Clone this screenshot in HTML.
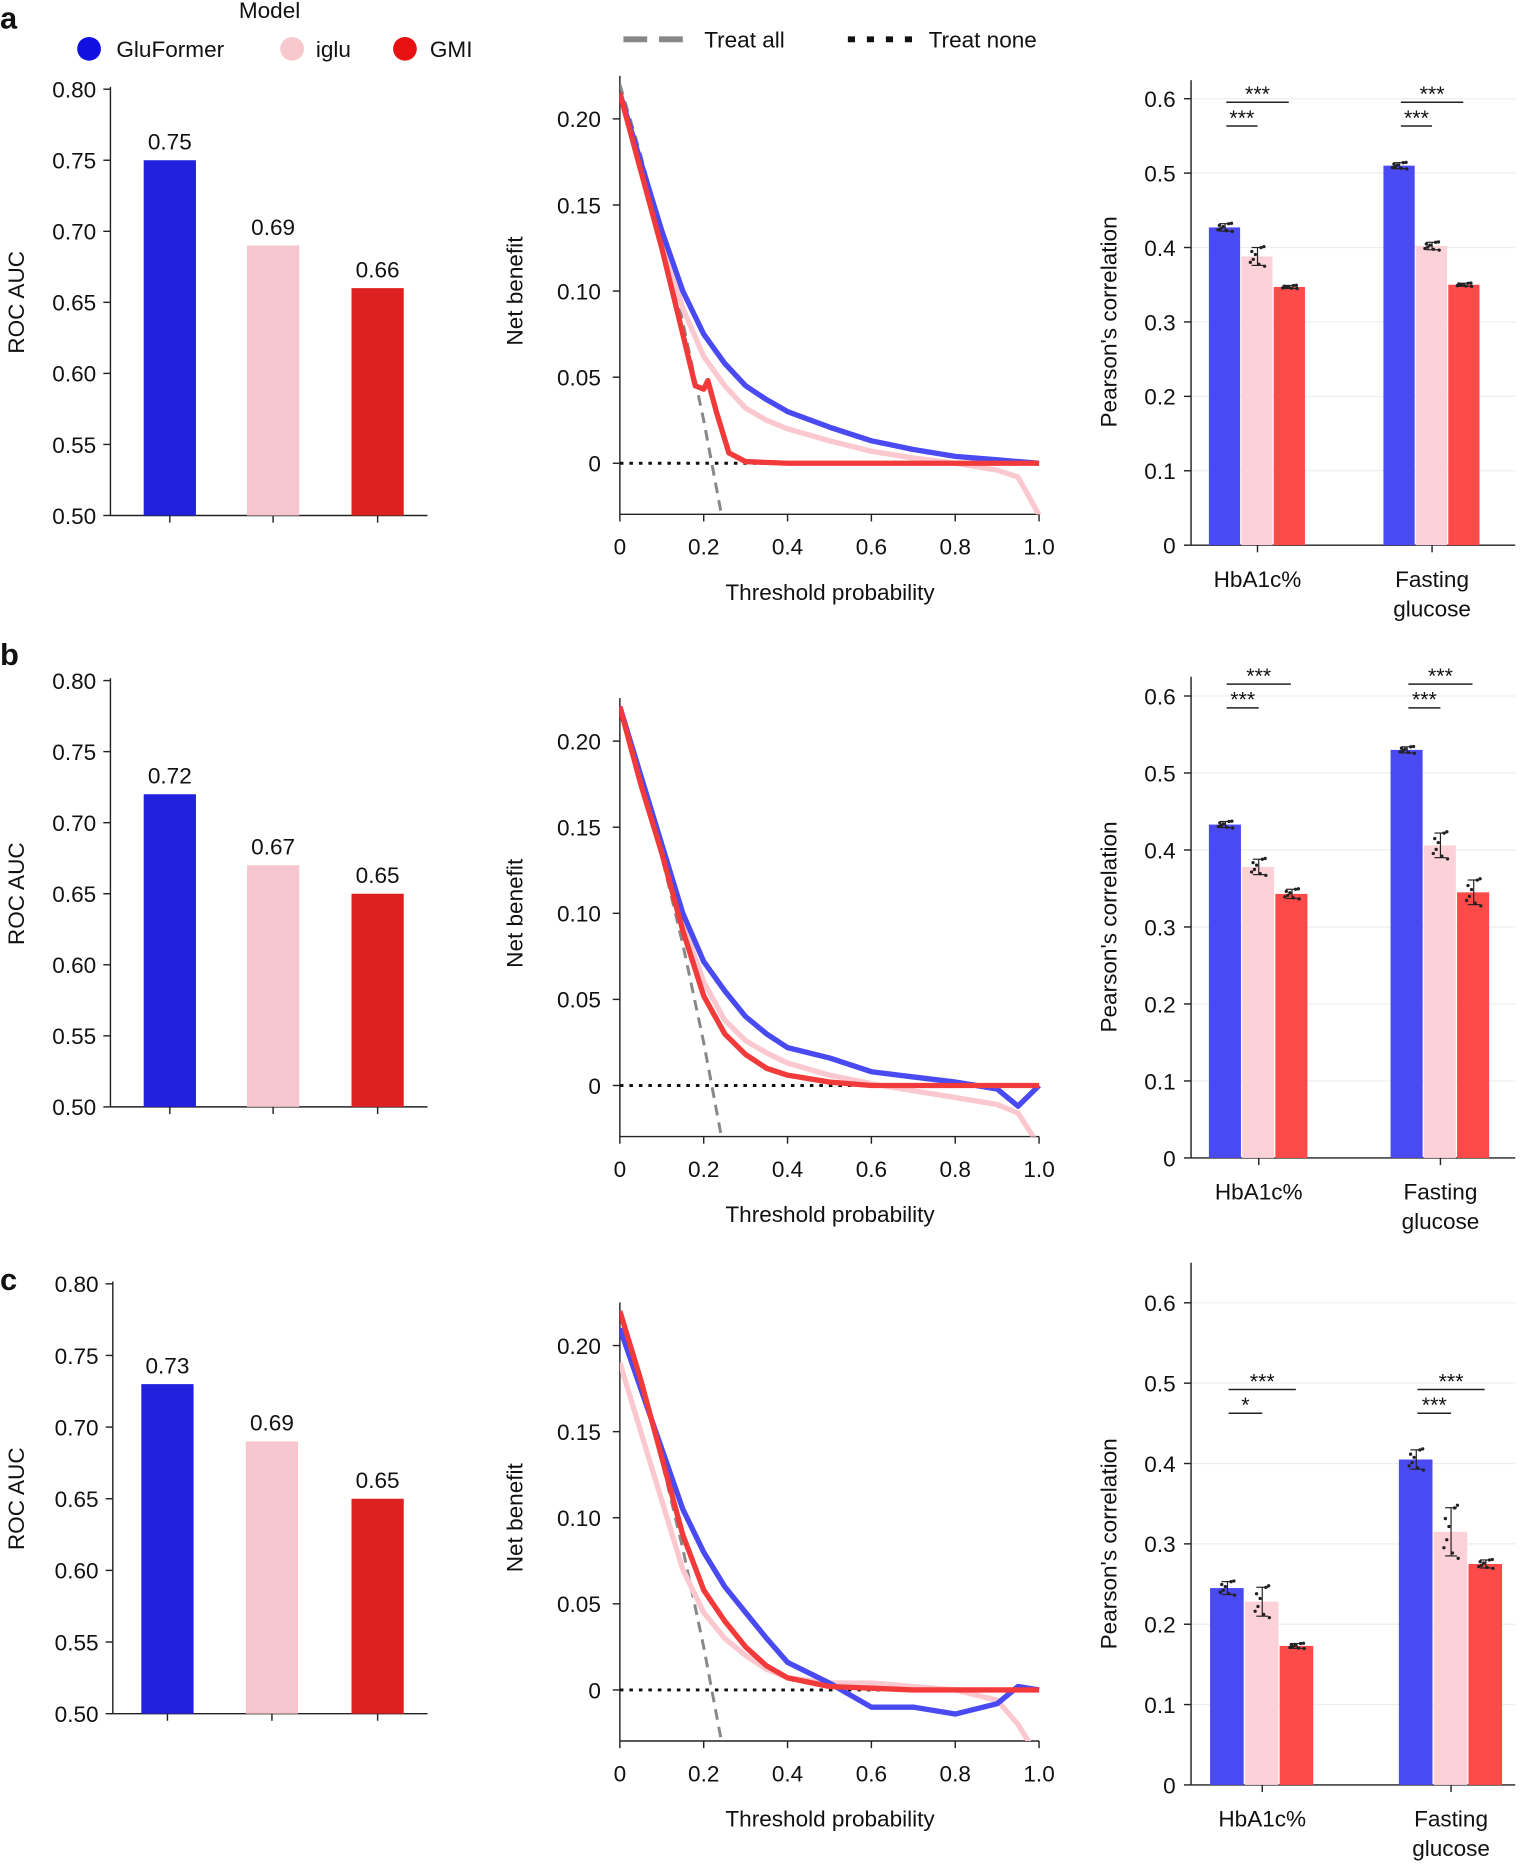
<!DOCTYPE html>
<html><head><meta charset="utf-8"><style>
html,body{margin:0;padding:0;background:#fff;}
svg{display:block;font-family:"Liberation Sans",Arial,sans-serif;}
</style></head><body>
<svg id="fig" width="1520" height="1867" viewBox="0 0 1280 1572" xmlns="http://www.w3.org/2000/svg"></svg>
<script>
// ---- data ----
const aucModels = ["GluFormer","iglu","GMI"];
const aucA = [0.75,0.69,0.66];
const aucB = [0.72,0.67,0.65];
const aucC = [0.73,0.69,0.65];
const aucTicks = ["0.50","0.55","0.60","0.65","0.70","0.75","0.80"];

const thr = [0,0.05,0.1,0.15,0.2,0.25,0.3,0.35,0.4,0.5,0.6,0.7,0.8,0.9,0.95,1.0];
const nbABlue = [0.215,0.175,0.135,0.10,0.075,0.058,0.045,0.037,0.030,0.021,0.013,0.008,0.004,0.002,0.001,0];
const nbAPink = [0.215,0.17,0.13,0.09,0.062,0.045,0.032,0.025,0.020,0.013,0.007,0.003,0.000,-0.004,-0.008,-0.03];
const thrARed = [0,0.05,0.1,0.15,0.18,0.2,0.21,0.23,0.26,0.3,0.4,0.6,0.8,1.0];
const nbARed = [0.215,0.17,0.125,0.075,0.045,0.043,0.048,0.03,0.006,0.001,0,0,0,0];
const nbBBlue = [0.22,0.18,0.14,0.10,0.072,0.055,0.040,0.030,0.022,0.016,0.008,0.005,0.002,-0.002,-0.012,0];
const nbBPink = [0.22,0.178,0.135,0.095,0.06,0.038,0.026,0.019,0.013,0.006,0.001,-0.003,-0.007,-0.011,-0.016,-0.035];
const nbBRed = [0.22,0.175,0.135,0.09,0.052,0.030,0.018,0.010,0.006,0.002,0,0,0,0,0,0];
const nbCBlue = [0.21,0.175,0.14,0.105,0.08,0.06,0.045,0.03,0.016,0.004,-0.01,-0.01,-0.014,-0.008,0.002,0];
const nbCPink = [0.19,0.15,0.11,0.07,0.045,0.03,0.02,0.012,0.007,0.004,0.004,0.002,0.0,-0.006,-0.02,-0.04];
const nbCRed = [0.22,0.18,0.135,0.09,0.058,0.04,0.025,0.014,0.007,0.002,0.001,0,0,0,0,0];
const treatAllT = [0,0.05,0.1,0.15,0.2,0.25];
const treatAllNB = [0.22,0.179,0.133,0.082,0.025,-0.04];
const nbTicks = ["0","0.05","0.10","0.15","0.20"];
const thrTicks = ["0","0.2","0.4","0.6","0.8","1.0"];

const corrCats = ["HbA1c%","Fasting glucose"];
const corrA = [[0.427,0.388,0.347],[0.510,0.402,0.350]];
const corrB = [[0.433,0.378,0.343],[0.530,0.406,0.345]];
const corrC = [[0.245,0.228,0.173],[0.405,0.315,0.275]];
const spreadA = [[0.005,0.012,0.002],[0.004,0.005,0.002]];
const spreadB = [[0.004,0.010,0.006],[0.004,0.016,0.016]];
const spreadC = [[0.008,0.018,0.003],[0.012,0.030,0.005]];
const corrTicks = ["0","0.1","0.2","0.3","0.4","0.5","0.6"];
const sigA = [["***","***"],["***","***"]];
const sigB = [["***","***"],["***","***"]];
const sigC = [["***","*"],["***","***"]];
const jit = [-0.6,0.9,0.2,-1.0,0.5,-0.3,1.0,-0.8];

const NS="http://www.w3.org/2000/svg";
const svg=document.getElementById('fig');
function mk(tag,attrs,name,parent){
  const e=document.createElementNS(NS,tag);
  for(const k in attrs) e.setAttribute(k,attrs[k]);
  
  
  (parent||svg).appendChild(e);
  return e;
}
function txt(x,y,s,size,anchor,name,extra){
  const a=Object.assign({x:x,y:y,'font-size':size,'text-anchor':anchor||'start',fill:'#111'},extra||{});
  const t=mk('text',a,name);
  t.textContent=s;
  return t;
}
const C1=['#2020dd','#f5c6cd','#dd2020'];
const C3=['#4a4af2','#fcd2d8','#ff4a4a'];
const CL=['#4a4af2','#fbc8cf','#f23a3a'];

// legend
txt(227,15,"Model",19,'middle','legend-title');
[[75,'#1010e0',98,'GluFormer'],[246,'#f8c8cf',266,'iglu'],[341,'#e81010',362,'GMI']].forEach(function(l,i){
  mk('circle',{cx:l[0],cy:41,r:10,fill:l[1]},'legend-marker-'+aucModels[i].toLowerCase());
  txt(l[2],48,l[3],19,'start','legend-label-'+aucModels[i].toLowerCase());
});
mk('line',{x1:525,y1:33,x2:582,y2:33,stroke:'#888','stroke-width':5,'stroke-dasharray':'20,10'},'legend-treat-all-line');
txt(593,40,"Treat all",19,'start','legend-treat-all-label');
mk('line',{x1:714,y1:33,x2:772,y2:33,stroke:'#111','stroke-width':5,'stroke-dasharray':'6,10'},'legend-treat-none-line');
txt(782,40,"Treat none",19,'start','legend-treat-none-label');

function panelAUC(cfg,vals,row){
  const y=v=>cfg.bot-(v-0.5)/0.3*(cfg.bot-cfg.top);
  mk('line',{x1:cfg.ax,y1:cfg.top-2,x2:cfg.ax,y2:cfg.bot,stroke:'#222','stroke-width':1.2},'auc-y-axis-'+row);
  mk('line',{x1:cfg.ax,y1:cfg.bot,x2:360,y2:cfg.bot,stroke:'#222','stroke-width':1.2},'auc-x-axis-'+row);
  aucTicks.forEach(function(t){
    const yy=y(parseFloat(t));
    mk('line',{x1:cfg.ax-6,y1:yy,x2:cfg.ax,y2:yy,stroke:'#222','stroke-width':1.2},'auc-tick-'+row);
    txt(cfg.ax-12,yy+7,t,19,'end','auc-tick-label-'+row);
  });
  vals.forEach(function(v,i){
    const c=cfg.centers[i];
    mk('rect',{x:c-22,y:y(v),width:44,height:cfg.bot-y(v),fill:C1[i]},'auc-bar-'+aucModels[i].toLowerCase()+'-'+row);
    txt(c,y(v)-9,v.toFixed(2),19,'middle','auc-value-label-'+row);
    mk('line',{x1:c,y1:cfg.bot,x2:c,y2:cfg.bot+6,stroke:'#222','stroke-width':1.2},'auc-x-tick-'+row);
  });
  const t=txt(20,(cfg.top+cfg.bot)/2,"ROC AUC",19,'middle','auc-y-axis-title-'+row);
  t.setAttribute('transform','rotate(-90 20 '+(cfg.top+cfg.bot)/2+')');
}

function panelNB(cfg,series,row){
  const x0=522,x1=875;
  const step=(cfg.y0-cfg.y20)/4;
  const sx=t=>x0+t*(x1-x0);
  const sy=v=>cfg.y0-v/0.05*step;
  const top=sy(0.225);
  const clip=mk('clipPath',{id:'clip'+row},'clip-'+row);
  mk('rect',{x:x0,y:top,width:x1-x0+4,height:cfg.bot-top},'clip-rect-'+row,clip);
  mk('line',{x1:x0,y1:top,x2:x0,y2:cfg.bot,stroke:'#222','stroke-width':1.2},'nb-y-axis-'+row);
  mk('line',{x1:x0,y1:cfg.bot,x2:x1,y2:cfg.bot,stroke:'#222','stroke-width':1.2},'nb-x-axis-'+row);
  nbTicks.forEach(function(t){
    const yy=sy(parseFloat(t));
    mk('line',{x1:x0-6,y1:yy,x2:x0,y2:yy,stroke:'#222','stroke-width':1.2},'nb-y-tick-'+row);
    txt(x0-16,yy+7,t,19,'end','nb-y-tick-label-'+row);
  });
  thrTicks.forEach(function(t){
    const xx=sx(parseFloat(t));
    mk('line',{x1:xx,y1:cfg.bot,x2:xx,y2:cfg.bot+6,stroke:'#222','stroke-width':1.2},'nb-x-tick-'+row);
    txt(xx,cfg.bot+34,t,19,'middle','nb-x-tick-label-'+row);
  });
  txt(699,cfg.bot+72,"Threshold probability",19,'middle','nb-x-axis-title-'+row);
  const yt=txt(440,(cfg.y20+cfg.y0)/2,"Net benefit",19,'middle','nb-y-axis-title-'+row);
  yt.setAttribute('transform','rotate(-90 440 '+(cfg.y20+cfg.y0)/2+')');
  mk('line',{x1:sx(0),y1:sy(0),x2:sx(1),y2:sy(0),stroke:'#111','stroke-width':2.5,'stroke-dasharray':'3,5'},'treat-none-line-'+row);
  const pts=(ts,vs)=>ts.map((t,i)=>sx(t).toFixed(1)+','+sy(vs[i]).toFixed(1)).join(' ');
  mk('polyline',{points:pts(treatAllT,treatAllNB),fill:'none',stroke:'#888','stroke-width':2.5,'stroke-dasharray':'9,6','clip-path':'url(#clip'+row+')'},'treat-all-line-'+row);
  [1,0,2].forEach(function(k){
    const s=series[k];
    mk('polyline',{points:pts(s[0],s[1]),fill:'none',stroke:CL[k],'stroke-width':4.5,'stroke-linejoin':'round','clip-path':'url(#clip'+row+')'},'nb-line-'+['gluformer','iglu','gmi'][k]+'-'+row);
  });
}

function panelCorr(cfg,vals,spreads,sig,row){
  const sy=v=>cfg.y0-v/0.6*(cfg.y0-cfg.y6);
  const top=sy(cfg.max);
  for(let i=1;i<=6;i++){
    mk('line',{x1:cfg.ax,y1:sy(i/10),x2:1276,y2:sy(i/10),stroke:'#eee','stroke-width':1},'corr-gridline-'+row);
  }
  mk('line',{x1:cfg.ax,y1:top,x2:cfg.ax,y2:cfg.y0,stroke:'#222','stroke-width':1.2},'corr-y-axis-'+row);
  mk('line',{x1:cfg.ax,y1:cfg.y0,x2:1276,y2:cfg.y0,stroke:'#222','stroke-width':1.2},'corr-x-axis-'+row);
  corrTicks.forEach(function(t){
    const yy=sy(parseFloat(t));
    mk('line',{x1:cfg.ax-6,y1:yy,x2:cfg.ax,y2:yy,stroke:'#222','stroke-width':1.2},'corr-y-tick-'+row);
    txt(cfg.ax-13,yy+7,t,19,'end','corr-y-tick-label-'+row);
  });
  const yt=txt(940,(cfg.y0+cfg.y6)/2,"Pearson's correlation",19,'middle','corr-y-axis-title-'+row);
  yt.setAttribute('transform','rotate(-90 940 '+(cfg.y0+cfg.y6)/2+')');
  vals.forEach(function(g,gi){
    const gx=cfg.gx[gi];
    g.forEach(function(v,bi){
      const x=gx+bi*cfg.bw;
      mk('rect',{x:x,y:sy(v),width:cfg.bw-1,height:cfg.y0-sy(v),fill:C3[bi]},'corr-bar-'+gi+'-'+bi+'-'+row);
      const cx=x+cfg.bw/2, sp=spreads[gi][bi];
      mk('line',{x1:cx,y1:sy(v+sp),x2:cx,y2:sy(v-sp),stroke:'#222','stroke-width':1},'corr-errorbar-'+row);
      mk('line',{x1:cx-5,y1:sy(v+sp),x2:cx+5,y2:sy(v+sp),stroke:'#222','stroke-width':1},'corr-errorbar-cap-'+row);
      mk('line',{x1:cx-5,y1:sy(v-sp),x2:cx+5,y2:sy(v-sp),stroke:'#222','stroke-width':1},'corr-errorbar-cap-'+row);
      jit.forEach(function(j,k){
        mk('circle',{cx:cx+jit[(k+3)%8]*6,cy:sy(v+j*sp*1.1),r:1.4,fill:'#222'},'corr-dot-'+row);
      });
    });
    const c=gx+1.5*cfg.bw;
    mk('line',{x1:c,y1:cfg.y0,x2:c,y2:cfg.y0+6,stroke:'#222','stroke-width':1.2},'corr-x-tick-'+row);
    if(gi===0){ txt(c,cfg.y0+35,"HbA1c%",19,'middle','corr-cat-label-'+row); }
    else { txt(c,cfg.y0+35,"Fasting",19,'middle','corr-cat-label-'+row); txt(c,cfg.y0+60,"glucose",19,'middle','corr-cat-label-'+row); }
    const x0=gx+cfg.bw/2+1;
    const xo=gx+2.5*cfg.bw-1;
    const xi=gx+1.5*cfg.bw;
    const lo=cfg.sigY, hi=cfg.sigY-20;
    mk('line',{x1:x0,y1:hi,x2:xo,y2:hi,stroke:'#222','stroke-width':1.2},'sig-line-outer-'+row);
    txt((x0+xo)/2,hi-1,sig[gi][0],18,'middle','sig-label-outer-'+row);
    mk('line',{x1:x0,y1:lo,x2:xi,y2:lo,stroke:'#222','stroke-width':1.2},'sig-line-inner-'+row);
    txt((x0+xi)/2,lo-1,sig[gi][1],18,'middle','sig-label-inner-'+row);
  });
}

// panel letters
txt(0,24,"a",26,'start','panel-label-a',{'font-weight':'bold'});
txt(0,560,"b",26,'start','panel-label-b',{'font-weight':'bold'});
txt(0,1086,"c",26,'start','panel-label-c',{'font-weight':'bold'});

panelAUC({ax:93,top:75,bot:434,centers:[143,230,318]},aucA,'a');
panelAUC({ax:93,top:573,bot:932,centers:[143,230,318]},aucB,'b');
panelAUC({ax:95,top:1081,bot:1443,centers:[141,229,318]},aucC,'c');

panelNB({y20:100,y0:390,bot:433},[[thr,nbABlue],[thr,nbAPink],[thrARed,nbARed]],'a');
panelNB({y20:624,y0:914,bot:957},[[thr,nbBBlue],[thr,nbBPink],[thr,nbBRed]],'b');
panelNB({y20:1133,y0:1423,bot:1466},[[thr,nbCBlue],[thr,nbCPink],[thr,nbCRed]],'c');

panelCorr({ax:1003,y0:459,y6:83,max:0.625,gx:[1018,1165],bw:27.3,sigY:106},corrA,spreadA,sigA,'a');
panelCorr({ax:1003,y0:975,y6:586,max:0.625,gx:[1018,1171],bw:28,sigY:596},corrB,spreadB,sigB,'b');
panelCorr({ax:1003,y0:1503,y6:1097,max:0.65,gx:[1019,1178],bw:29.3,sigY:1190},corrC,spreadC,sigC,'c');
</script>
</body></html>
